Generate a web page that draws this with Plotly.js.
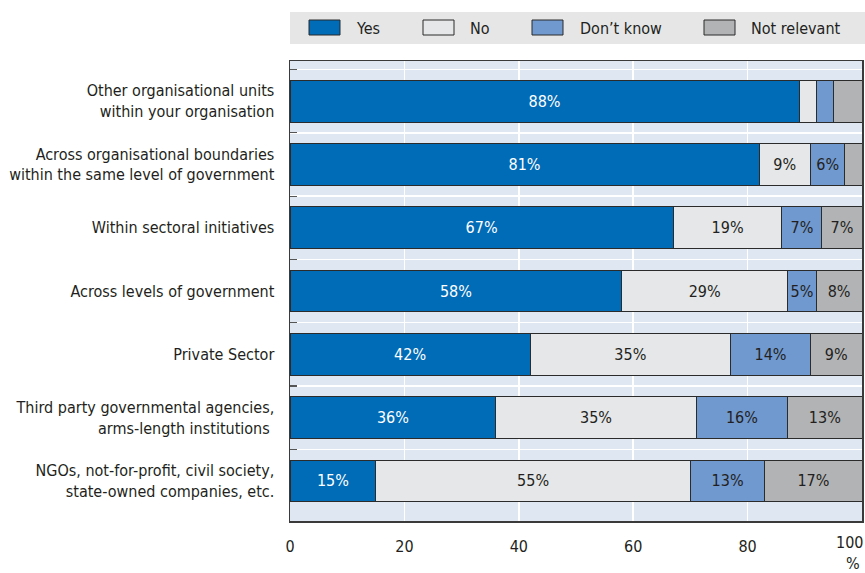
<!DOCTYPE html>
<html>
<head>
<meta charset="utf-8">
<script src="https://cdn.plot.ly/plotly-3.0.1.min.js"></script>
<style>
  html, body { margin: 0; padding: 0; background: #ffffff; }
  #chart { width: 865px; height: 573px; }
</style>
</head>
<body>
<div id="chart"></div>
<script>
// ---- data (top to bottom) ----
var categories = [
  "Other organisational units<br>within your organisation",
  "Across organisational boundaries<br>within the same level of government",
  "Within sectoral initiatives",
  "Across levels of government",
  "Private Sector",
  "Third party governmental agencies,<br>arms-length institutions ",
  "NGOs, not-for-profit, civil society,<br>state-owned companies, etc."
];
var seriesNames = ["Yes", "No", "Don\u2019t know", "Not relevant"];
var yesValues = [89, 82, 67, 58, 42, 36, 15];
var noValues = [3, 9, 19, 29, 35, 35, 55];
var dkValues = [3, 6, 7, 5, 14, 16, 13];
var nrValues = [5, 3, 7, 8, 9, 13, 17];
var yesLabels = ["88%", "81%", "67%", "58%", "42%", "36%", "15%"];
var noLabels = ["", "9%", "19%", "29%", "35%", "35%", "55%"];
var dkLabels = ["", "6%", "7%", "5%", "14%", "16%", "13%"];
var nrLabels = ["", "", "7%", "8%", "9%", "13%", "17%"];
var xTickVals = [0, 20, 40, 60, 80, 100];
var xTickText = ["0", "20", "40", "60", "80", ""];

// ---- styles ----
var FONT = "'Liberation Sans Narrow', 'Arial Narrow', 'DejaVu Sans Condensed', sans-serif";
var FS = 16;
var colors = ["#006bb6", "#e6e7e8", "#7099d0", "#b2b3b5"];
var textColors = ["#ffffff", "#231f20", "#231f20", "#231f20"];
var outline = "#2b2b2b";

var allValues = [yesValues, noValues, dkValues, nrValues];
var allLabels = [yesLabels, noLabels, dkLabels, nrLabels];

var traces = allValues.map(function (vals, i) {
  return {
    type: "bar",
    orientation: "h",
    name: seriesNames[i],
    y: categories,
    x: vals,
    text: allLabels[i],
    textposition: "inside",
    insidetextanchor: "middle",
    textangle: 0,
    constraintext: "none",
    textfont: { family: FONT, size: FS, color: textColors[i] },
    marker: { color: colors[i], line: { color: outline, width: 1 } },
    width: 0.66,
    hoverinfo: "skip",
    showlegend: false
  };
});

// legend drawn as layout decorations
function px2x(px) { return (px - 290) / 572; }
function py2y(py) { return (521 - py) / 460; }

var legendSw = [[309, 340], [423, 454], [532, 563], [704, 735]];
var legendTx = [354, 468, 578, 749];

var shapes = [{
  type: "rect", xref: "paper", yref: "paper",
  x0: px2x(290), x1: px2x(866), y0: py2y(44), y1: py2y(12),
  fillcolor: "#e6e6e7", line: { width: 0 }, layer: "below"
}];
var annotations = [];
seriesNames.forEach(function (n, i) {
  shapes.push({
    type: "rect", xref: "paper", yref: "paper",
    x0: px2x(legendSw[i][0]), x1: px2x(legendSw[i][1]),
    y0: py2y(35), y1: py2y(20),
    fillcolor: colors[i], line: { color: outline, width: 1 }
  });
  annotations.push({
    xref: "paper", yref: "paper",
    x: px2x(legendTx[i]), y: py2y(28),
    xanchor: "left", yanchor: "middle",
    text: n, showarrow: false,
    font: { family: FONT, size: FS, color: "#231f20" }
  });
});
annotations.push({
  xref: "x", yref: "paper", x: 100, y: py2y(542),
  xanchor: "right", yanchor: "middle", xshift: 2, borderpad: 0,
  text: "100", showarrow: false,
  font: { family: FONT, size: FS, color: "#231f20" }
});
annotations.push({
  xref: "x", yref: "paper", x: 100, y: py2y(563),
  xanchor: "right", yanchor: "middle", xshift: -1, borderpad: 0,
  text: "%", showarrow: false,
  font: { family: FONT, size: FS, color: "#231f20" }
});

var layout = {
  width: 865, height: 573,
  margin: { l: 290, r: 3, t: 61, b: 52, pad: 0 },
  barmode: "stack",
  bargap: 0.34,
  paper_bgcolor: "#ffffff",
  plot_bgcolor: "#dfe7f2",
  font: { family: FONT, size: FS, color: "#231f20" },
  uniformtext: { mode: "show", minsize: 15 },
  xaxis: {
    range: [0, 100],
    tickvals: xTickVals,
    ticktext: xTickText,
    showgrid: true, gridcolor: "#ffffff", gridwidth: 1.5,
    zeroline: false,
    ticks: "", ticklabelstandoff: 10,
    showline: true, linecolor: "#3a3a3a", linewidth: 1.5, mirror: true,
    tickfont: { family: FONT, size: FS, color: "#231f20" },
    fixedrange: true
  },
  yaxis: {
    type: "category",
    categoryorder: "array",
    categoryarray: categories,
    range: [6.632, -0.635],
    tickson: "boundaries",
    ticks: "inside", ticklen: 7, tickcolor: "#555555", tickwidth: 1.2,
    showgrid: true, gridcolor: "#ffffff", gridwidth: 1.5,
    showline: true, linecolor: "#3a3a3a", linewidth: 1.5, mirror: true,
    ticklabelstandoff: 11,
    tickfont: { family: FONT, size: FS, color: "#231f20" },
    fixedrange: true
  },
  shapes: shapes,
  annotations: annotations
};

Plotly.newPlot("chart", traces, layout, { staticPlot: true, displayModeBar: false });
</script>
</body>
</html>
